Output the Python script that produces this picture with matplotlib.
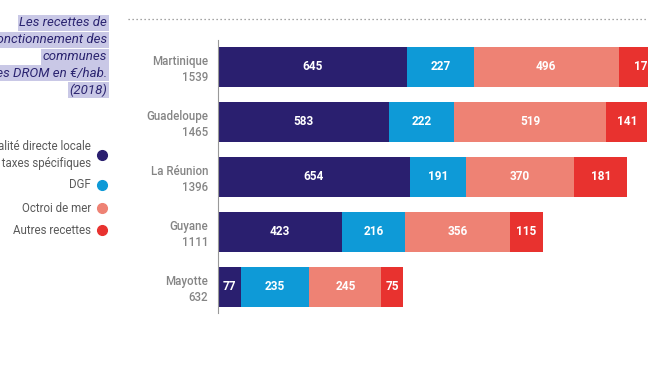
import matplotlib.pyplot as plt
from matplotlib.lines import Line2D

plt.rcParams['font.family'] = ['Roboto', 'DejaVu Sans']

# data
territoires = ['Martinique', 'Guadeloupe', 'La Réunion', 'Guyane', 'Mayotte']
totaux = [1539, 1465, 1396, 1111, 632]
fiscalite = [645, 583, 654, 423, 77]
dgf = [227, 222, 191, 216, 235]
octroi = [496, 519, 370, 356, 245]
autres = [171, 141, 181, 115, 75]

series_labels = ['Fiscalité directe locale\net taxes spécifiques', 'DGF',
                 'Octroi de mer', 'Autres recettes']
colors = ['#2a1f6f', '#0e9ad7', '#ee8274', '#e8322f']
title_lines = ['Les recettes de', 'fonctionnement des', 'communes',
               'des DROM en €/hab.', '(2018)']

W, H = 648, 366
fig = plt.figure(figsize=(W / 100, H / 100), dpi=100)


def fx(px):
    return px / W


def fy(py):
    return 1 - py / H


# main axes: left spine at x=218 px, spans y 40..313 px
ax = fig.add_axes([fx(218), fy(313), fx(W) - fx(218), fy(40) - fy(313)])
series = [fiscalite, dgf, octroi, autres]
ypos = list(range(len(territoires)))
left = [0] * len(territoires)
for vals, col in zip(series, colors):
    ax.barh(ypos, vals, left=left, height=0.73, color=col)
    for y, v, l in zip(ypos, vals, left):
        ax.text(l + v / 2, y, str(v), ha='center', va='center', color='white',
                fontsize=8.5, fontweight='bold')
    left = [a + b for a, b in zip(left, vals)]

ax.set_xlim(0, 1467)
ax.set_ylim(4.48, -0.49)
ax.set_yticks(ypos)
ax.set_yticklabels([f'{t}\n{n}' for t, n in zip(territoires, totaux)],
                   fontsize=8.3, color='#858585', fontweight='medium',
                   multialignment='right', linespacing=1.25)
ax.tick_params(axis='y', length=0, pad=7)
ax.set_xticks([])
for s in ['top', 'right', 'bottom']:
    ax.spines[s].set_visible(False)
ax.spines['left'].set_color('#999999')
ax.spines['left'].set_linewidth(0.8)

# dotted rule at top
fig.add_artist(Line2D([fx(128), fx(W)], [fy(19), fy(19)], color='#888888',
                      linestyle=(0, (1, 2.2)), linewidth=0.9))

# title with highlighted lines
for i, line in enumerate(title_lines):
    fig.text(fx(107), fy(23 + i * 16.8), line, ha='right', va='center',
             fontsize=9.5, style='italic', color='#2b2470',
             bbox=dict(facecolor='#c9c8e6', edgecolor='none', pad=1.1))

# legend
leg_y = [155, 185, 208, 230]
for lab, col, y in zip(series_labels, colors, leg_y):
    fig.text(fx(91), fy(y), lab, ha='right', va='center', fontsize=8.3,
             color='#5a5a5a', multialignment='right', linespacing=1.3)
    fig.add_artist(Line2D([fx(102)], [fy(y)], marker='o', markersize=7,
                          color=col, linestyle='none'))

fig.savefig('out.png', dpi=100)
